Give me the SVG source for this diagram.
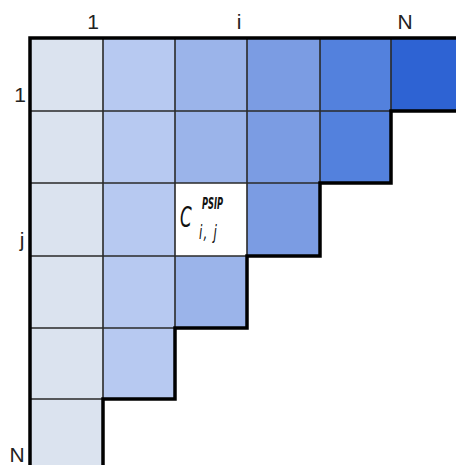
<svg xmlns="http://www.w3.org/2000/svg" width="456" height="465" viewBox="0 0 456 465">
<style>
.thin{stroke:#2a2a2a;stroke-width:1.6;fill:none}
.thick{stroke:#000;stroke-width:3.5;fill:none;stroke-linejoin:miter}
.lbl{font-family:"Liberation Sans",Arial,sans-serif;font-size:21px;fill:#222;text-anchor:middle}
.c1{fill:#dbe3ef}.c2{fill:#b7c9f1}.c3{fill:#9bb4ea}.c4{fill:#7b9ce3}.c5{fill:#5381dd}.c6{fill:#2e63d3}
.math{font-family:"DejaVu Sans",sans-serif;font-style:italic;fill:#111}
</style>
<rect width="456" height="465" fill="#fff"/>
<g id="cells">
<rect class="c1" x="30" y="38" width="73" height="427"/>
<rect class="c2" x="103" y="38" width="72" height="361"/>
<rect class="c3" x="175" y="38" width="72" height="290"/>
<rect class="c4" x="247" y="38" width="73" height="218"/>
<rect class="c5" x="320" y="38" width="71" height="145"/>
<rect class="c6" x="391" y="38" width="65" height="73"/>
<rect fill="#fff" x="175" y="183" width="72" height="73"/>
</g>
<g id="connectors">
<path class="thin" d="M103 38V399M175 38V328M247 38V256M320 38V183M391 38V111M30 111H391M30 183H320M30 256H247M30 328H175M30 399H103"/>
<path class="thick" d="M30 465V38H456M456 111H391V183H320V256H247V328H175V399H103V465"/>
</g>
<g id="labels">
<text class="lbl" x="93" y="29">1</text>
<text class="lbl" x="239" y="29">i</text>
<text class="lbl" x="405" y="29">N</text>
<text class="lbl" x="20" y="102">1</text>
<text class="lbl" x="22" y="247">j</text>
<text class="lbl" x="17" y="462">N</text>
</g>
<g id="node-cij">
<text class="math" font-size="28" font-weight="200" transform="translate(180 227) scale(0.6 1)">C</text>
<text class="math" font-size="15" font-weight="bold" transform="translate(202 209) scale(0.55 1)">PSIP</text>
<text class="math" font-size="20" font-weight="200" letter-spacing="2" transform="translate(199 239) scale(0.6 1)">i, j</text>
</g>
</svg>
